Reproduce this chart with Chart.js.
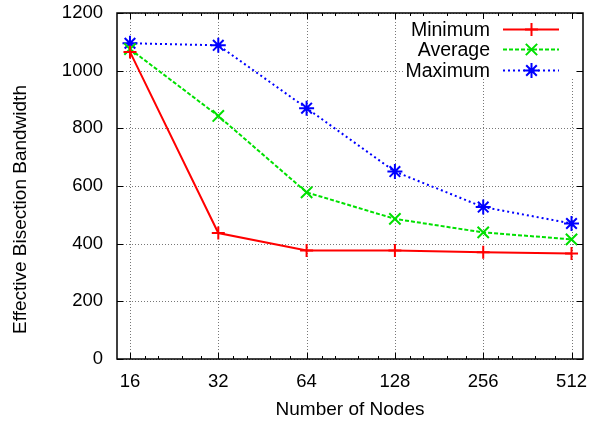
<!DOCTYPE html>
<html><head><meta charset="utf-8">
<script src="https://cdn.jsdelivr.net/npm/chart.js@4/dist/chart.umd.min.js"></script>
<style>html,body{margin:0;padding:0;background:#fff}#wrap{width:593px;height:421px}</style>
</head><body><div id="wrap"><canvas id="c" width="593" height="421"></canvas></div>
<script>
const nodes = [16, 32, 64, 128, 256, 512];
const minimum = [1065, 437, 376, 376, 370, 366];
const average = [1075, 843, 578, 486, 439, 415];
const maximum = [1095, 1088, 870, 650, 527, 470];
const yTicks = [0, 200, 400, 600, 800, 1000, 1200];
const minorFactors = [1.125, 1.25, 1.5, 1.75];
const seriesNames = ['Minimum', 'Average', 'Maximum'];
const xTitle = 'Number of Nodes';
const yTitle = 'Effective Bisection Bandwidth';

const FONT = '"Liberation Sans", Arial, Helvetica, sans-serif';
const toPts = arr => arr.map((v, i) => ({x: Math.log2(nodes[i]), y: v}));

const gridAndFrame = {
  id: 'gridAndFrame',
  beforeDatasetsDraw(chart) {
    const {ctx, chartArea: a, scales: {x, y}} = chart;
    ctx.save();
    ctx.strokeStyle = '#777';
    ctx.lineWidth = 1;
    ctx.setLineDash([1, 2]);
    ctx.beginPath();
    nodes.forEach(n => {
      const px = Math.round(x.getPixelForValue(Math.log2(n))) + 0.5;
      ctx.moveTo(px, a.top); ctx.lineTo(px, a.bottom);
    });
    yTicks.forEach(t => {
      const py = Math.round(y.getPixelForValue(t)) + 0.5;
      ctx.moveTo(a.left, py); ctx.lineTo(a.right, py);
    });
    ctx.stroke();
    ctx.setLineDash([]);
    // key area blanks the grid
    ctx.fillStyle = '#fff';
    ctx.fillRect(a.right - 180, a.top + 5, 172, 60);
    ctx.restore();
  },
  afterDraw(chart) {
    const {ctx, chartArea: a, scales: {x, y}} = chart;
    ctx.save();
    ctx.strokeStyle = '#000';
    ctx.lineWidth = 1;
    ctx.setLineDash([]);
    ctx.beginPath();
    nodes.forEach((n, i) => {
      const px = Math.round(x.getPixelForValue(Math.log2(n))) + 0.5;
      ctx.moveTo(px, a.bottom); ctx.lineTo(px, a.bottom - 6);
      ctx.moveTo(px, a.top); ctx.lineTo(px, a.top + 6);
      if (i < nodes.length - 1) {
        minorFactors.forEach(f => {
          const mx = Math.round(x.getPixelForValue(Math.log2(n * f))) + 0.5;
          ctx.moveTo(mx, a.bottom); ctx.lineTo(mx, a.bottom - 3);
          ctx.moveTo(mx, a.top); ctx.lineTo(mx, a.top + 3);
        });
      }
    });
    yTicks.forEach(t => {
      const py = Math.round(y.getPixelForValue(t)) + 0.5;
      ctx.moveTo(a.left, py); ctx.lineTo(a.left + 6, py);
      ctx.moveTo(a.right, py); ctx.lineTo(a.right - 6, py);
    });
    ctx.stroke();
    ctx.lineWidth = 1.5;
    ctx.strokeRect(a.left, a.top, a.right - a.left, a.bottom - a.top);

    // y title (centred on full canvas height as in the original)
    ctx.fillStyle = '#000';
    ctx.font = '19px ' + FONT;
    ctx.textAlign = 'center';
    ctx.textBaseline = 'middle';
    ctx.translate(21, chart.height / 2 - 1);
    ctx.rotate(-Math.PI / 2);
    ctx.fillText(yTitle, 0, 0);
    ctx.setTransform(1, 0, 0, 1, 0, 0);

    // legend
    ctx.font = '19.5px ' + FONT;
    ctx.textAlign = 'right';
    ctx.textBaseline = 'middle';
    chart.data.datasets.forEach((ds, i) => {
      const yy = Math.round(a.top + 15.5 + i * 20.8) + 0.5;
      ctx.fillStyle = '#000';
      ctx.fillText(ds.label, a.right - 93, yy + 1);
      ctx.strokeStyle = ds.borderColor;
      ctx.lineWidth = ds.borderWidth;
      ctx.setLineDash(ds.borderDash || []);
      ctx.beginPath();
      ctx.moveTo(a.right - 80, yy); ctx.lineTo(a.right - 24, yy);
      ctx.stroke();
      ctx.setLineDash([]);
      const cx = a.right - 51.5;
      const r = ds.pointRadius;
      ctx.lineWidth = 2;
      ctx.beginPath();
      if (ds.pointStyle === 'cross' || ds.pointStyle === 'star') {
        ctx.moveTo(cx - r, yy); ctx.lineTo(cx + r, yy);
        ctx.moveTo(cx, yy - r); ctx.lineTo(cx, yy + r);
      }
      if (ds.pointStyle === 'crossRot' || ds.pointStyle === 'star') {
        const d = r * 0.7071;
        ctx.moveTo(cx - d, yy - d); ctx.lineTo(cx + d, yy + d);
        ctx.moveTo(cx - d, yy + d); ctx.lineTo(cx + d, yy - d);
      }
      ctx.stroke();
    });
    ctx.restore();
  }
};

new Chart(document.getElementById('c'), {
  type: 'line',
  data: {
    datasets: [
      {label: seriesNames[0], data: toPts(minimum), borderColor: '#ff0000', backgroundColor: '#ff0000',
       borderWidth: 2, pointStyle: 'cross', pointRadius: 6.5, pointBorderWidth: 2, fill: false, tension: 0},
      {label: seriesNames[1], data: toPts(average), borderColor: '#00e000', backgroundColor: '#00e000',
       borderWidth: 2, borderDash: [4, 2], pointStyle: 'crossRot', pointRadius: 8, pointBorderWidth: 2, fill: false, tension: 0},
      {label: seriesNames[2], data: toPts(maximum), borderColor: '#0000ff', backgroundColor: '#0000ff',
       borderWidth: 2, borderDash: [2, 3], pointStyle: 'star', pointRadius: 7.5, pointBorderWidth: 2, fill: false, tension: 0}
    ]
  },
  options: {
    responsive: false,
    animation: false,
    devicePixelRatio: 1,
    layout: {padding: {top: 13, right: 10, left: 0, bottom: 0}},
    plugins: {legend: {display: false}, tooltip: {enabled: false}},
    scales: {
      x: {
        type: 'linear',
        min: 3.853, max: 9.13,
        afterBuildTicks: s => { s.ticks = nodes.map(n => ({value: Math.log2(n)})); },
        afterFit: s => { s.height = 62; s.paddingLeft = 0; s.paddingRight = 0; },
        ticks: {callback: v => String(Math.round(Math.pow(2, v))), font: {family: FONT, size: 18.5}, color: '#000', padding: 12, maxRotation: 0, autoSkip: false},
        grid: {display: false, drawTicks: false},
        border: {display: false},
        title: {display: true, text: xTitle, font: {family: FONT, size: 19}, color: '#000', padding: {top: 6, bottom: 0}}
      },
      y: {
        type: 'linear',
        min: 0, max: 1200,
        afterBuildTicks: s => { s.ticks = yTicks.map(v => ({value: v})); },
        afterFit: s => { s.width = 117; s.paddingTop = 0; s.paddingBottom = 0; },
        ticks: {callback: v => String(v), font: {family: FONT, size: 18.5}, color: '#000', padding: 14},
        grid: {display: false, drawTicks: false},
        border: {display: false}
      }
    }
  },
  plugins: [gridAndFrame]
});
</script></body></html>
